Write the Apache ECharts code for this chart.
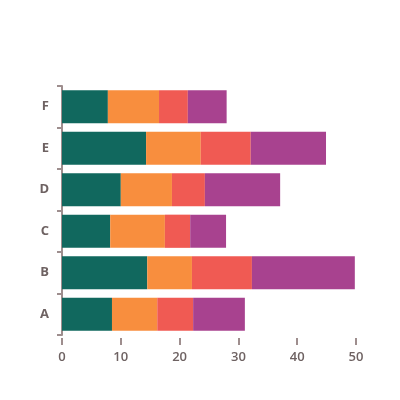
<!DOCTYPE html>
<html>
<head>
<meta charset="utf-8">
<script src="https://cdn.jsdelivr.net/npm/echarts@6/dist/echarts.min.js"></script>
<style>
  html, body { margin: 0; padding: 0; background: #fff; }
  #chart { width: 400px; height: 400px; }
</style>
</head>
<body>
<div id="chart"></div>
<script>
const categories = ['A', 'B', 'C', 'D', 'E', 'F']
const series1 = [8.5, 14.5, 8.2, 10.0, 14.3, 7.8]
const series2 = [7.7, 7.6, 9.3, 8.7, 9.3, 8.7]
const series3 = [6.1, 10.2, 4.3, 5.6, 8.5, 4.9]
const series4 = [8.8, 17.5, 6.1, 12.8, 12.8, 6.6]
const xTicks = [0, 10, 20, 30, 40, 50]

const colors = ['#11685e', '#f88e3e', '#f05a53', '#a8428f']
const axisColor = '#9e8e8e'
const labelColor = '#6e6262'

const chart = echarts.init(document.getElementById('chart'))

const makeSeries = (data, i) => ({
  type: 'bar',
  stack: 'total',
  data: data,
  barWidth: '80%',
  itemStyle: { color: colors[i] }
})

chart.setOption({
  animation: false,
  backgroundColor: '#fff',
  grid: { left: 62, right: 44, top: 86, bottom: 65 },
  xAxis: {
    type: 'value',
    min: xTicks[0],
    max: xTicks[xTicks.length - 1],
    interval: 10,
    offset: 3,
    axisLine: { show: false },
    axisTick: { show: true, length: 7, lineStyle: { color: axisColor, width: 2 } },
    splitLine: { show: false },
    axisLabel: {
      color: labelColor,
      fontFamily: 'Open Sans',
      fontWeight: 600,
      fontSize: 13,
      margin: 13
    }
  },
  yAxis: {
    type: 'category',
    data: categories,
    axisLine: { show: true, lineStyle: { color: axisColor, width: 2 } },
    axisTick: { show: true, length: 5, lineStyle: { color: axisColor, width: 2 } },
    axisLabel: {
      color: labelColor,
      fontFamily: 'Open Sans',
      fontWeight: 'bold',
      fontSize: 13,
      margin: 13
    }
  },
  series: [series1, series2, series3, series4].map(makeSeries)
})
</script>
</body>
</html>
